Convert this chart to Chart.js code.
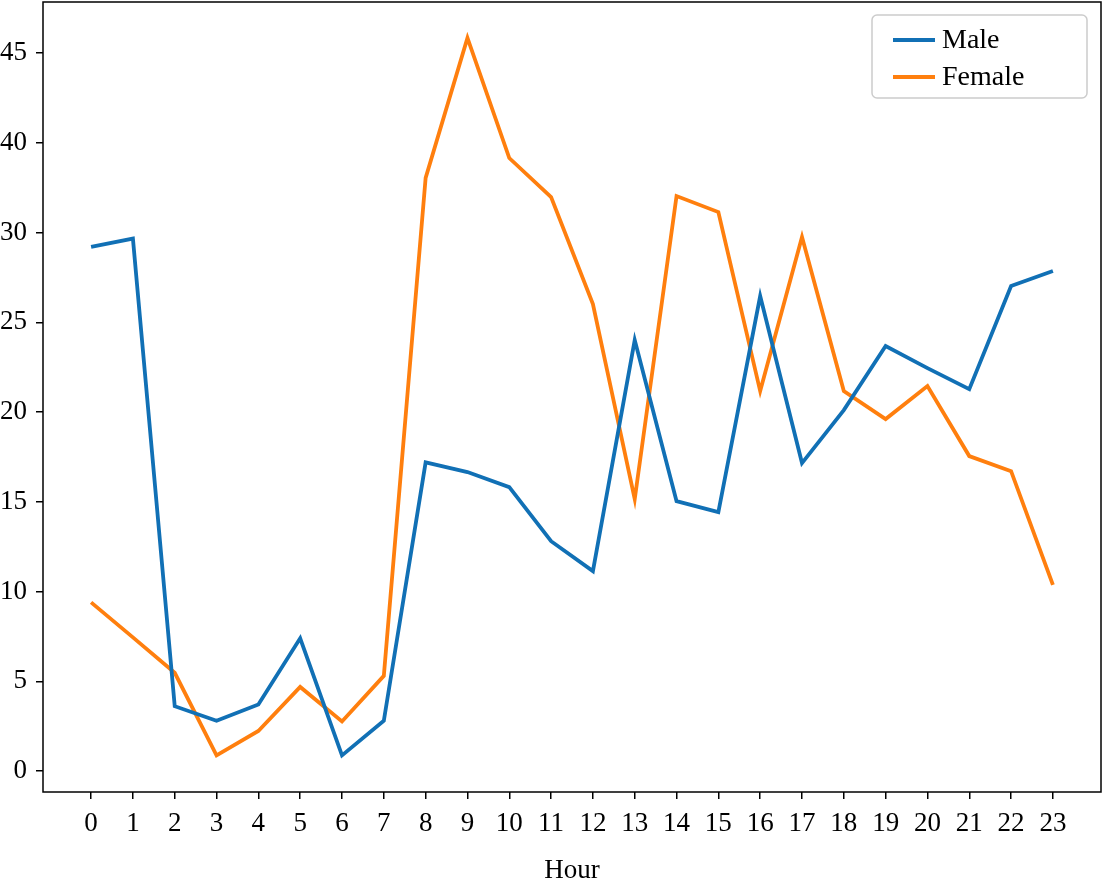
<!DOCTYPE html>
<html>
<head>
<meta charset="utf-8">
<script src="https://cdn.jsdelivr.net/npm/chart.js@4.4.1/dist/chart.umd.min.js"></script>
<style>
    html, body { margin: 0; padding: 0; background: #fff; }
    #wrap { width: 1103px; height: 879px; }
</style>
</head>
<body>
<div id="wrap"><canvas id="hourChart" width="1103" height="879"></canvas></div>
<script>
// Chart data
const hours = [0, 1, 2, 3, 4, 5, 6, 7, 8, 9, 10, 11, 12, 13, 14, 15, 16, 17, 18, 19, 20, 21, 22, 23];
const maleValues = [29.2, 29.66, 3.62, 2.81, 3.71, 7.4, 0.88, 2.81, 17.2, 16.66, 15.82, 12.81, 11.14, 24.01,
    15.04, 14.43, 26.46, 17.16, 20.11, 23.68, 22.45, 21.28, 27.02, 27.86];
const femaleValues = [9.4, 7.45, 5.48, 0.88, 2.24, 4.69, 2.77, 5.31, 33.04, 40.84, 34.15, 31.98, 26.02, 15.15,
    32.03, 31.14, 21.17, 29.75, 21.17, 19.61, 21.45, 17.55, 16.71, 10.38];
const yTickValues = [0, 5, 10, 15, 20, 25, 30, 35, 40];
const yTickLabels = ['0', '5', '10', '15', '20', '25', '30', '40', '45'];
const seriesNames = ['Male', 'Female'];

const blue = '#1170b5';
const orange = '#ff7f0e';
const serif = '"Liberation Serif", "DejaVu Serif", serif';

Chart.defaults.font.family = serif;
Chart.defaults.font.size = 27;
Chart.defaults.color = '#000';

// Full box around the plot area (matplotlib style spines)
const framePlugin = {
    id: 'frame',
    afterDraw(chart) {
        const {ctx, chartArea: a} = chart;
        ctx.save();
        ctx.strokeStyle = '#000';
        ctx.lineWidth = 1.5;
        ctx.strokeRect(a.left, a.top, a.right - a.left, a.bottom - a.top);
        ctx.restore();
    }
};

// Legend drawn inside the plot, top right
const insideLegend = {
    id: 'insideLegend',
    afterDraw(chart) {
        const ctx = chart.ctx;
        const x = 872, y = 15, w = 215, h = 83, r = 5;
        ctx.save();
        ctx.beginPath();
        ctx.roundRect(x, y, w, h, r);
        ctx.fillStyle = 'rgba(255,255,255,0.8)';
        ctx.fill();
        ctx.strokeStyle = '#cccccc';
        ctx.lineWidth = 1.5;
        ctx.stroke();
        chart.data.datasets.forEach((ds, i) => {
            const cy = 40 + i * 37;
            ctx.beginPath();
            ctx.moveTo(893, cy);
            ctx.lineTo(935, cy);
            ctx.strokeStyle = ds.borderColor;
            ctx.lineWidth = 3.8;
            ctx.stroke();
            ctx.fillStyle = '#000';
            ctx.font = '28px ' + serif;
            ctx.textBaseline = 'middle';
            ctx.fillText(ds.label, 942, cy + 1);
        });
        ctx.restore();
    }
};

const ctx = document.getElementById('hourChart').getContext('2d');
const hourChart = new Chart(ctx, {
    type: 'line',
    data: {
        datasets: [
            {
                label: seriesNames[0],
                data: hours.map((h, i) => ({x: h, y: maleValues[i]})),
                borderColor: blue,
                backgroundColor: blue,
                borderWidth: 3.8,
                pointRadius: 0,
                tension: 0
            },
            {
                label: seriesNames[1],
                data: hours.map((h, i) => ({x: h, y: femaleValues[i]})),
                borderColor: orange,
                backgroundColor: orange,
                borderWidth: 3.8,
                pointRadius: 0,
                tension: 0
            }
        ]
    },
    options: {
        responsive: false,
        animation: false,
        devicePixelRatio: 1,
        layout: { padding: { top: 2, right: 2, left: 0, bottom: 0 } },
        plugins: {
            legend: { display: false },
            tooltip: { enabled: false }
        },
        scales: {
            x: {
                type: 'linear',
                min: -1.15,
                max: 24.15,
                afterBuildTicks: scale => { scale.ticks = hours.map(v => ({value: v})); },
                afterFit: scale => {
                    scale.height = 87;
                    scale.paddingLeft = 0;
                    scale.paddingRight = 0;
                },
                ticks: { padding: 9, maxRotation: 0, autoSkip: false, callback: v => String(v) },
                grid: { drawOnChartArea: false, drawTicks: true, tickLength: 7, color: '#000', lineWidth: 1.5 },
                border: { display: false },
                title: { display: true, text: 'Hour', padding: { top: 0, bottom: -5 }, font: { size: 27, lineHeight: 1 } }
            },
            y: {
                type: 'linear',
                min: -1.16,
                max: 42.84,
                afterBuildTicks: scale => { scale.ticks = yTickValues.map(v => ({value: v})); },
                afterFit: scale => {
                    scale.width = 43;
                    scale.paddingTop = 0;
                    scale.paddingBottom = 0;
                },
                ticks: {
                    padding: 9,
                    autoSkip: false,
                    callback: v => yTickLabels[yTickValues.indexOf(v)]
                },
                grid: { drawOnChartArea: false, drawTicks: true, tickLength: 7, color: '#000', lineWidth: 1.5 },
                border: { display: false }
            }
        }
    },
    plugins: [framePlugin, insideLegend]
});
</script>
</body>
</html>
